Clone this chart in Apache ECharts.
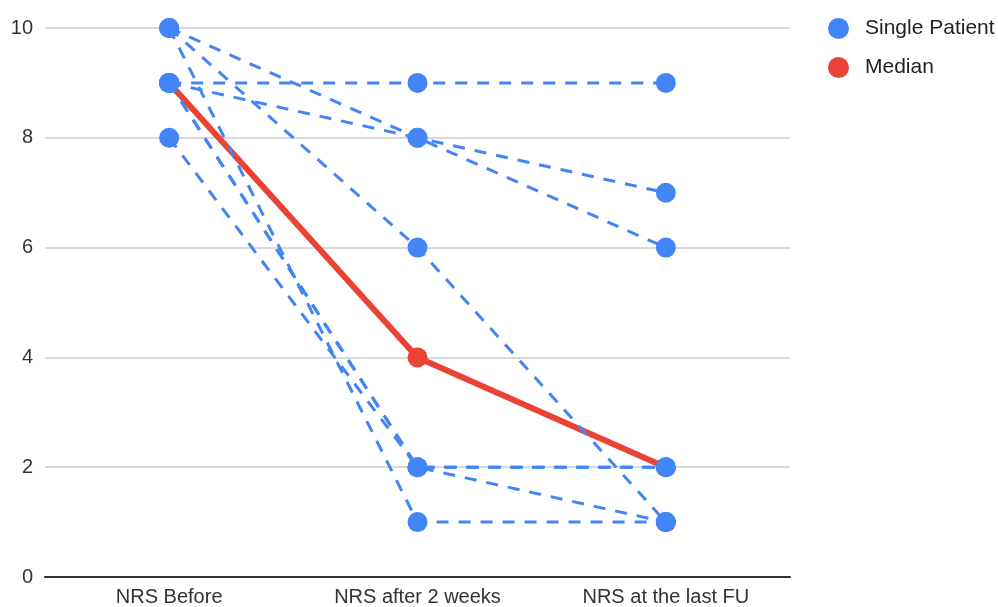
<!DOCTYPE html>
<html>
<head>
<meta charset="utf-8">
<script src="https://cdn.jsdelivr.net/npm/echarts@6/dist/echarts.min.js"></script>
<style>
html,body{margin:0;padding:0;background:#fff;}
#chart{width:998px;height:607px;}
</style>
</head>
<body>
<div id="chart"></div>
<script>
var categories = ['NRS Before', 'NRS after 2 weeks', 'NRS at the last FU'];
var yTicks = [0, 2, 4, 6, 8, 10];
var patient1 = [10, 8, 7];
var patient2 = [9, 8, 6];
var patient3 = [10, 6, 1];
var patient4 = [10, 1, 1];
var patient5 = [9, 9, 9];
var patient6 = [8, 2, 2];
var patient7 = [9, 2, 2];
var patient8 = [9, 2, 1];
var patients = [patient1, patient2, patient3, patient4, patient5, patient6, patient7, patient8];
var median = [9, 4, 2];

var BLUE = '#4285F4';
var RED = '#EA4335';
var FONT = '"Liberation Sans", Arial, sans-serif';

var series = [{
  name: 'Median',
  type: 'line',
  data: median,
  z: 2,
  symbol: 'circle',
  symbolSize: 20,
  color: RED,
  itemStyle: {color: RED},
  lineStyle: {color: RED, width: 6},
  emphasis: {disabled: true},
  animation: false
}];
patients.forEach(function (p) {
  series.push({
    name: 'Single Patient',
    type: 'line',
    data: p,
    z: 3,
    symbol: 'circle',
    symbolSize: 20,
    color: BLUE,
    itemStyle: {color: BLUE},
    lineStyle: {color: BLUE, width: 3, type: [12, 10]},
    emphasis: {disabled: true},
    animation: false
  });
});

var chart = echarts.init(document.getElementById('chart'));
chart.setOption({
  animation: false,
  textStyle: {fontFamily: FONT},
  grid: {left: 45, right: 208, top: 28, bottom: 29, containLabel: false},
  legend: {
    data: ['Single Patient', 'Median'],
    orient: 'vertical',
    left: 823,
    top: 13,
    icon: 'circle',
    itemWidth: 21,
    itemHeight: 21,
    itemGap: 18,
    textStyle: {fontSize: 21, color: '#222', fontFamily: FONT, padding: [0, 0, 0, 11]}
  },
  xAxis: {
    type: 'category',
    data: categories,
    boundaryGap: true,
    axisLine: {lineStyle: {color: '#333', width: 2}},
    axisTick: {show: false},
    axisLabel: {fontSize: 20, color: '#333', margin: 10, fontFamily: FONT},
    splitLine: {show: false}
  },
  yAxis: {
    type: 'value',
    min: yTicks[0],
    max: yTicks[yTicks.length - 1],
    interval: 2,
    axisLine: {show: false},
    axisTick: {show: false},
    axisLabel: {fontSize: 20, color: '#333', margin: 12, fontFamily: FONT},
    splitLine: {lineStyle: {color: '#cccccc', width: 1.5}}
  },
  series: series
});
</script>
</body>
</html>
